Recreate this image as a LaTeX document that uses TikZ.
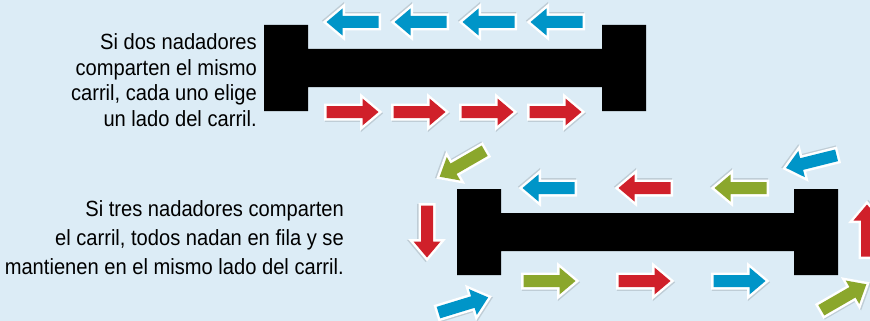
\documentclass[tikz,border=0pt]{standalone}
\usepackage{fontspec}
\setmainfont[FakeStretch=0.915]{Liberation Sans}
\definecolor{bgblue}{HTML}{DCECF6}
\definecolor{arblue}{HTML}{0095C8}
\definecolor{arred}{HTML}{D0202A}
\definecolor{argreen}{HTML}{8BA72C}
\begin{document}
\begin{tikzpicture}[x=1pt,y=-1pt,
  pics/swimarrow/.style={code={
    \draw[black,opacity=0.13,line width=5pt,line join=miter,fill=black]
      (2.3,-4.7) -- (38.3,-4.7) -- (38.3,-12.2) -- (54.3,1.3) -- (38.3,14.8) -- (38.3,7.3) -- (2.3,7.3) -- cycle;
    \draw[white,line width=5pt,line join=miter,fill=white]
      (1.5,-6) -- (37.5,-6) -- (37.5,-13.5) -- (53.5,0) -- (37.5,13.5) -- (37.5,6) -- (1.5,6) -- cycle;
    \fill[#1]
      (1.5,-6) -- (37.5,-6) -- (37.5,-13.5) -- (53.5,0) -- (37.5,13.5) -- (37.5,6) -- (1.5,6) -- cycle;
  }},
  lanebar/.style={fill=black},
  caption/.style={font=\fontsize{22}{25.7}\selectfont,align=right,inner sep=0pt,anchor=north east}]
\useasboundingbox (0,0) rectangle (870,321);
\clip (0,0) rectangle (870,321);
\fill[bgblue] (0,0) rectangle (870,321);

% captions
\node[caption] (cap1) at (257,33.2) {Si dos nadadores\\comparten el mismo\\carril, cada uno elige\\un lado del carril.};
\node[caption,font=\fontsize{22}{28.6}\selectfont] (cap2) at (344,200.7) {Si tres nadadores comparten\\el carril, todos nadan en fila y se\\mantienen en el mismo lado del carril.};

% lane 1
\fill[lanebar] (264,25) -- (308,25) -- (308,49) -- (602,49) -- (602,25) -- (646,25) -- (646,111) -- (602,111) -- (602,87) -- (308,87) -- (308,111) -- (264,111) -- cycle;
% lane 2
\fill[lanebar] (457,189) -- (501,189) -- (501,213) -- (794,213) -- (794,189) -- (838,189) -- (838,275) -- (794,275) -- (794,251) -- (501,251) -- (501,275) -- (457,275) -- cycle;

% lane 1 arrows
\foreach \x in {380,448,516,584} \pic[rotate=180] at (\x,22) {swimarrow=arblue};
\foreach \x in {325,392,460,528} \pic at (\x,112) {swimarrow=arred};

% lane 2 straight arrows
\pic[rotate=180] at (576,188) {swimarrow=arblue};
\pic[rotate=180] at (672,188) {swimarrow=arred};
\pic[rotate=180] at (768,188) {swimarrow=argreen};
\pic at (522,281) {swimarrow=argreen};
\pic at (617,281) {swimarrow=arred};
\pic at (712,281) {swimarrow=arblue};

% lane 2 turning arrows
\pic[rotate=210] at (486,150) {swimarrow=argreen};
\pic[rotate=270] at (427,204) {swimarrow=arred};
\pic[rotate=17] at (437,313) {swimarrow=arblue};
\pic[rotate=194] at (838,155) {swimarrow=arblue};
\pic[rotate=90] at (867,258) {swimarrow=arred};
\pic[rotate=30] at (820,311) {swimarrow=argreen};
\end{tikzpicture}
\end{document}
